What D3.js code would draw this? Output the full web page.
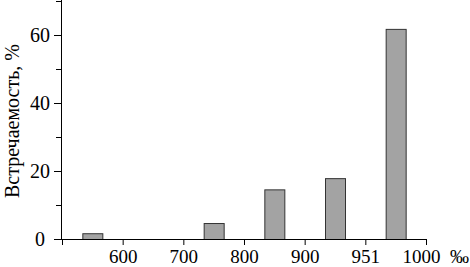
<!DOCTYPE html>
<html>
<head>
<meta charset="utf-8">
<script src="https://cdn.jsdelivr.net/npm/d3@7"></script>
<style>
  body { margin: 0; background: #fff; }
  svg text { font-family: "Liberation Serif", "Times New Roman", serif; }
</style>
</head>
<body>
<div id="chart"></div>
<script>
// tick labels along the bottom (first tick has no label)
const xTickLabels = ["", "600", "700", "800", "900", "951", "1000"];
// one bar per interval between ticks
const binIndex = [0, 1, 2, 3, 4, 5];
const frequency = [1.7, 0, 4.7, 14.6, 17.9, 61.8];
const yMajor = [0, 20, 40, 60];
const yMinor = [10, 30, 50, 70];

const width = 470, height = 267;
const fontSize = 20;

const svg = d3.select("#chart").append("svg")
    .attr("width", width)
    .attr("height", height);

const x = d3.scaleLinear().domain([0, 6]).range([62, 426]);
const y = d3.scaleLinear().domain([0, 70]).range([239, 1]);

// bars
const barW = 20;
svg.append("g").selectAll("rect")
    .data(binIndex.filter(i => frequency[i] > 0))
    .enter().append("rect")
    .attr("x", i => x(i + 0.5) - barW / 2 + 0.5)
    .attr("y", i => y(frequency[i]) + 0.5)
    .attr("width", barW)
    .attr("height", i => y(0) - y(frequency[i]))
    .attr("fill", "#a3a3a3")
    .attr("stroke", "#333")
    .attr("stroke-width", 1);

// x axis
const xAxis = svg.append("g")
    .attr("transform", `translate(0,${y(0)})`)
    .call(d3.axisBottom(x)
        .tickValues(d3.range(7))
        .tickFormat(i => xTickLabels[i])
        .tickSize(6)
        .tickPadding(5));
xAxis.select(".domain").attr("d", `M61,0.5H${x(6)}`);
xAxis.selectAll("text").attr("font-size", 19).attr("fill", "#000");
xAxis.selectAll(".tick").filter(d => d === 6).select("text").attr("dx", -5);

svg.append("text")
    .attr("x", 450)
    .attr("y", 263)
    .attr("font-size", 19)
    .text("‰");

// y axis
const yAxis = svg.append("g")
    .attr("transform", "translate(61,0)")
    .call(d3.axisLeft(y)
        .tickValues(yMajor)
        .tickSize(7)
        .tickPadding(4));
yAxis.select(".domain").attr("d", `M0.5,${y(0)}V0`);
yAxis.selectAll("text").attr("font-size", fontSize).attr("fill", "#000");
yAxis.selectAll(".tick").filter(d => d === 0).select("text").attr("dx", -5);

svg.append("g")
    .attr("transform", "translate(61,0)")
    .call(d3.axisLeft(y).tickValues(yMinor).tickSize(5).tickFormat(""))
    .select(".domain").remove();

svg.append("text")
    .attr("transform", "translate(19,121) rotate(-90)")
    .attr("text-anchor", "middle")
    .attr("font-size", fontSize)
    .text("Встречаемость, %");
</script>
</body>
</html>
